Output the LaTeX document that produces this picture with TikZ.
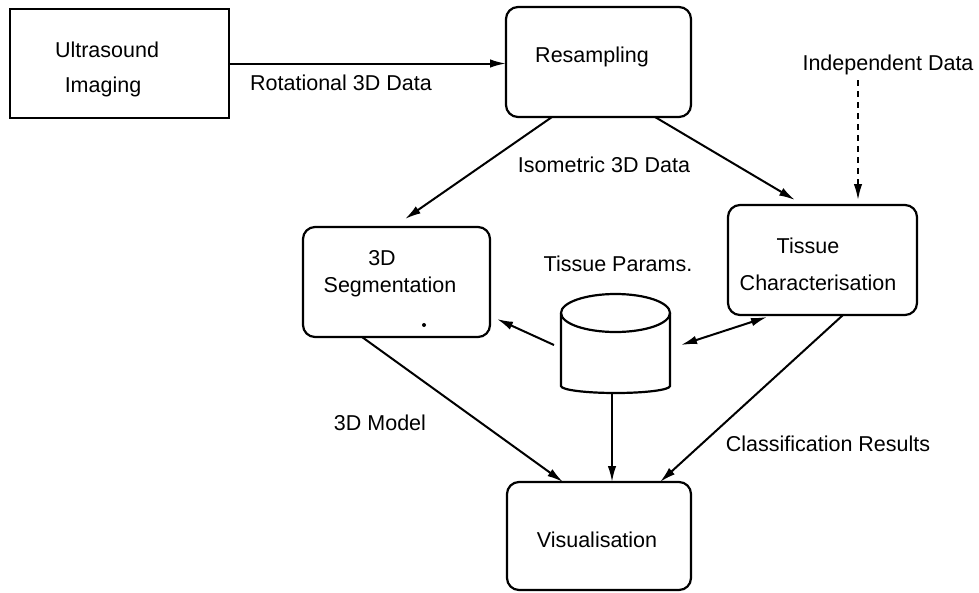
\documentclass[tikz,border=0pt]{standalone}
\usepackage{fontspec}
\setmainfont{Liberation Sans}
\usetikzlibrary{arrows.meta,calc}
\begin{document}
\begin{tikzpicture}[x=1pt,y=-1pt,
  line width=2pt,
  every node/.style={font=\fontsize{21.5}{24}\selectfont},
  box/.style={draw,line width=2.2pt,inner sep=0pt,outer sep=0pt},
  rbox/.style={box,rounded corners=12pt},
  txt/.style={inner sep=0pt,anchor=base},
  arr/.style={-{Latex[length=16pt,width=8.5pt]}},
  darr/.style={{Latex[length=16pt,width=8.5pt]}-{Latex[length=16pt,width=8.5pt]}},
  dsh/.style={arr,dash pattern=on 6pt off 5pt,line width=1.8pt}]
\fill[white] (0,0) rectangle (979,592);
\useasboundingbox (0,0) rectangle (979,592);

% boxes
\node[box,minimum width=219pt,minimum height=109pt] (us) at (119.5,63.5) {};
\node[rbox,minimum width=185pt,minimum height=110pt] (res) at (598.5,62) {};
\node[rbox,minimum width=189pt,minimum height=110pt] (tc) at (822.5,260) {};
\node[rbox,minimum width=187pt,minimum height=110pt] (seg) at (396.5,282) {};
\node[rbox,minimum width=184pt,minimum height=108pt] (vis) at (599,536) {};

% cylinder (database)
\node[inner sep=0pt,outer sep=0pt,minimum width=109pt,minimum height=99pt] (db) at (615.5,343.5) {};
\draw[line width=2.2pt] ($(db.center)+(0,-30.5)$) ellipse [x radius=54.5pt,y radius=19pt];
\draw[line width=2.2pt] ($(db.center)+(-54.5,-30.5)$) -- ($(db.center)+(-54.5,42.5)$)
  arc[start angle=180,end angle=360,x radius=54.5pt,y radius=7pt]
  -- ($(db.center)+(54.5,-30.5)$);

% texts
\node[txt] (t1) at (107,57) {Ultrasound};
\node[txt] (t2) at (103,92) {Imaging};
\node[txt] (t3) at (592,62) {Resampling};
\node[txt] (t4) at (808,253) {Tissue};
\node[txt] (t5) at (818,290) {Characterisation};
\node[txt] (t6) at (382,265) {3D};
\node[txt] (t7) at (390,292) {Segmentation};
\node[txt] (t8) at (597,547) {Visualisation};
\node[txt] (l1) at (341,90) {Rotational 3D Data};
\node[txt] (ind) at (888,70) {Independent Data};
\node[txt] (l2) at (604,172) {Isometric 3D Data};
\node[txt] (l3) at (618,271) {Tissue Params.};
\node[txt] (l4) at (380,430) {3D Model};
\node[txt] (l5) at (828,451) {Classification Results};

% small dot
\fill (424,325) circle (2pt);

% connectors
\draw[arr] (us.east) -- (us.east -| res.west);
\draw[arr] ($(res.south)+(-46.5,0)$) -- ($(seg.north)+(8.5,-8)$);
\draw[arr] ($(res.south)+(56.5,0)$) -- ($(tc.north)+(-27.5,-5)$);
\coordinate (indend) at ($(tc.north)+(35.5,-5)$);
\draw[dsh] (indend |- ind.south) ++(0,5) -- (indend);
\draw[arr] ($(db.west)+(-7,1.5)$) -- ($(seg.south east)+(7,-18)$);
\draw[darr] ($(db.east)+(11,1.5)$) -- ($(tc.south)+(-55.5,2)$);
\draw[arr] ($(db.south)+(-3.5,0)$) -- ($(vis.north)+(13,0)$);
\draw[arr] ($(seg.south)+(-34.5,0)$) -- ($(vis.north)+(-36,0)$);
\draw[arr] ($(tc.south)+(20.5,0)$) -- ($(vis.north)+(61,0)$);
\end{tikzpicture}
\end{document}
